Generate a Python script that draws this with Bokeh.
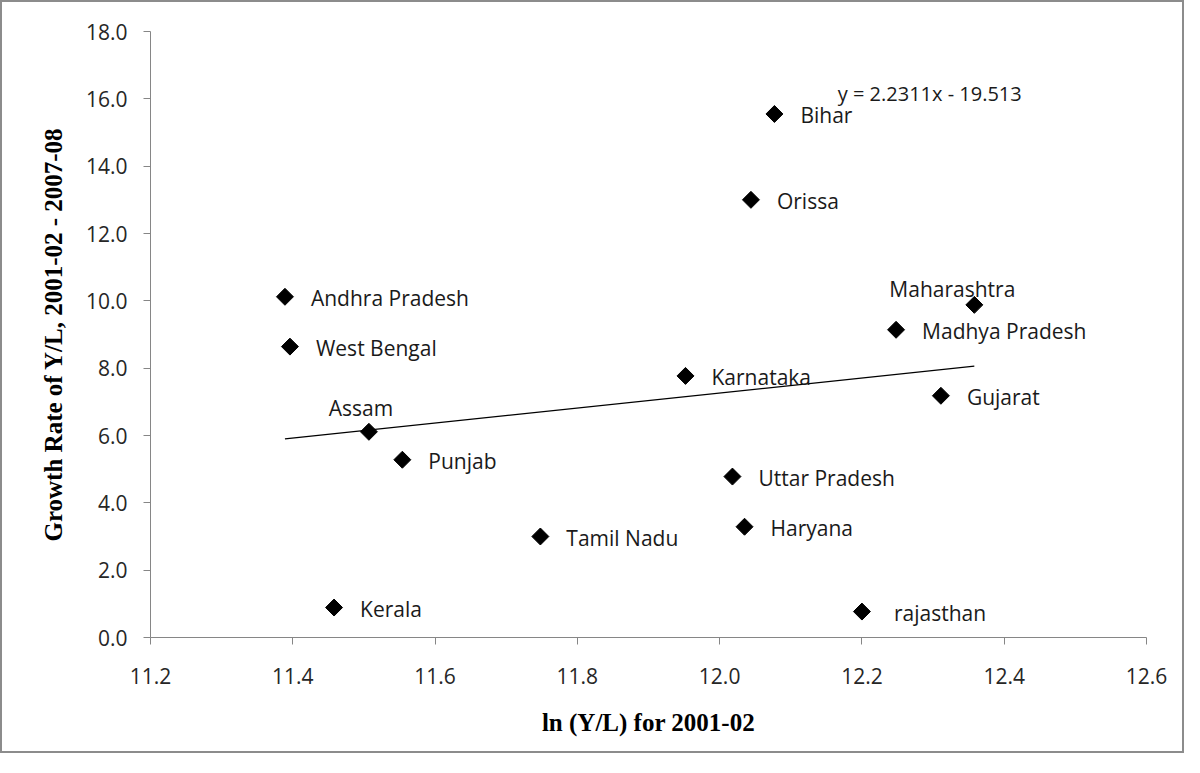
import math
from bokeh.plotting import figure
from bokeh.models import ColumnDataSource, Label, Range1d, FixedTicker, NumeralTickFormatter
from bokeh.embed import file_html
from bokeh.resources import INLINE

# ---- data ----
states = ["Andhra Pradesh", "West Bengal", "Assam", "Punjab", "Kerala", "Tamil Nadu",
          "Karnataka", "Uttar Pradesh", "Haryana", "Orissa", "Bihar", "rajasthan",
          "Madhya Pradesh", "Maharashtra", "Gujarat"]
ln_yl = [11.389, 11.396, 11.507, 11.554, 11.458, 11.748,
         11.952, 12.018, 12.035, 12.044, 12.077, 12.200,
         12.248, 12.358, 12.311]
growth = [10.12, 8.64, 6.11, 5.28, 0.89, 3.00,
          7.77, 4.78, 3.29, 13.00, 15.55, 0.77,
          9.14, 9.88, 7.18]
slope = 2.2311
intercept = -19.513
equation = "y = 2.2311x - 19.513"
x_ticks = [11.2, 11.4, 11.6, 11.8, 12.0, 12.2, 12.4, 12.6]
y_ticks = [0, 2, 4, 6, 8, 10, 12, 14, 16, 18]
x_title = "ln (Y/L) for 2001-02"
y_title = "Growth Rate of Y/L, 2001-02 - 2007-08"
# label placement relative to marker
placement = {"Assam": "above", "Maharashtra": "above_left", "rajasthan": "right_far"}

LABEL_FONT = "Open Sans"
TEXT_COL = "#1a1a1a"
AXIS_COL = "#868686"

p = figure(width=1184, height=753, output_backend="svg", toolbar_location=None,
           x_range=Range1d(11.2, 12.6), y_range=Range1d(0, 18),
           min_border_left=148, min_border_top=29, min_border_right=40, min_border_bottom=118)
p.styles = {"border": "2px solid #8c8c8c"}
p.outline_line_color = None
p.xgrid.visible = False
p.ygrid.visible = False
p.background_fill_color = "white"
p.border_fill_color = "white"

for ax in (p.xaxis[0], p.yaxis[0]):
    ax.axis_line_color = AXIS_COL
    ax.axis_line_width = 1
    ax.major_tick_line_color = AXIS_COL
    ax.major_tick_in = 0
    ax.major_tick_out = 7
    ax.minor_tick_line_color = None
    ax.major_label_text_font = LABEL_FONT
    ax.major_label_text_font_size = "21px"
    ax.major_label_text_color = "#262626"
    ax.axis_label_text_font = "Liberation Serif"
    ax.axis_label_text_font_style = "bold"
    ax.axis_label_text_font_size = "25px"
    ax.axis_label_text_color = "#000000"

p.xaxis[0].ticker = FixedTicker(ticks=x_ticks)
p.yaxis[0].ticker = FixedTicker(ticks=y_ticks)
p.xaxis[0].formatter = NumeralTickFormatter(format="0.0")
p.yaxis[0].formatter = NumeralTickFormatter(format="0.0")
p.xaxis[0].axis_label = x_title
p.yaxis[0].axis_label = y_title
p.xaxis[0].major_label_standoff = 23
p.yaxis[0].major_label_standoff = 16
p.xaxis[0].axis_label_standoff = 22
p.yaxis[0].axis_label_standoff = 16

# trend line over the data range
x0, x1 = min(ln_yl), max(ln_yl)
p.line([x0, x1], [slope * x0 + intercept, slope * x1 + intercept], line_color="black", line_width=1.3)

src = ColumnDataSource(dict(x=ln_yl, y=growth, name=states))
p.scatter("x", "y", source=src, marker="square", size=12, angle=math.pi / 4,
          fill_color="black", line_color="black")

for s, xv, yv in zip(states, ln_yl, growth):
    pl = placement.get(s, "right")
    if pl == "above":
        kw = dict(x_offset=-8, y_offset=24, text_align="center")
    elif pl == "above_left":
        kw = dict(x_offset=-22, y_offset=16, text_align="center")
    elif pl == "right_far":
        kw = dict(x_offset=32, y_offset=-1, text_align="left")
    else:
        kw = dict(x_offset=26, y_offset=-1, text_align="left")
    p.add_layout(Label(x=xv, y=yv, text=s, text_baseline="middle",
                       text_font=LABEL_FONT, text_font_size="21px", text_color=TEXT_COL, **kw))

p.add_layout(Label(x=12.166, y=16.17, text=equation, text_baseline="middle", text_align="left",
                   text_font=LABEL_FONT, text_font_size="20px", text_color=TEXT_COL))

open("out.html", "w").write(file_html(p, INLINE))
